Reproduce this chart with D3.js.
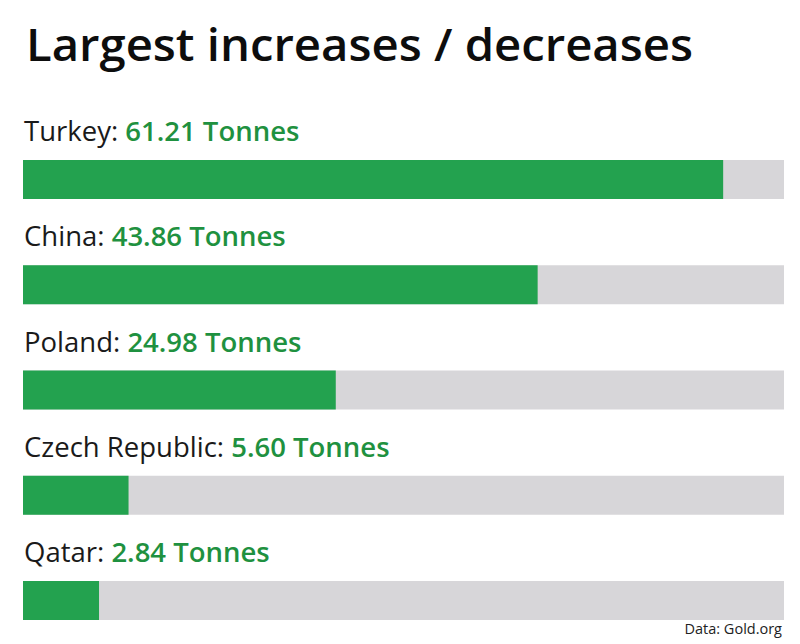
<!DOCTYPE html>
<html><head><meta charset="utf-8">
<script src="https://cdn.jsdelivr.net/npm/d3@7"></script>
<style>body{margin:0;background:#fff;}svg{display:block;}</style>
</head><body>
<script>
const countries = ["Turkey", "China", "Poland", "Czech Republic", "Qatar"];
const values = [61.21, 43.86, 24.98, 5.60, 2.84];
const unit = "Tonnes";
const title = "Largest increases / decreases";
const source = "Data: Gold.org";

const W = 800, H = 644;
const svg = d3.select("body").append("svg").attr("width", W).attr("height", H);
svg.append("rect").attr("width", W).attr("height", H).attr("fill", "#fff");

const font = "'Open Sans', 'Noto Sans', sans-serif";
svg.append("text").attr("x", 26).attr("y", 61).text(title)
  .attr("font-family", font).attr("font-size", 46).attr("font-weight", 600).attr("fill", "#0d0d0d")
  .attr("textLength", 667).attr("lengthAdjust", "spacingAndGlyphs");

const x = d3.scaleLinear().domain([-4.27, 66.9]).range([23, 784]);
const rowY = d3.scalePoint().domain(countries).range([160, 581]);
const barH = 39;

const g = svg.selectAll("g.row").data(countries).join("g").attr("class", "row");
g.append("rect").attr("x", x(-4.27)).attr("y", d => rowY(d))
  .attr("width", x(66.9) - x(-4.27)).attr("height", barH).attr("fill", "#d7d6d9");
g.append("rect").attr("x", x(-4.27)).attr("y", d => rowY(d))
  .attr("width", (d, i) => x(values[i]) - x(-4.27)).attr("height", barH).attr("fill", "#23a24f");
const t = g.append("text").attr("x", 24).attr("y", d => rowY(d) - 19)
  .attr("font-family", font).attr("font-size", 27.5).attr("fill", "#1a1a1a");
t.append("tspan").text(d => d + ": ");
t.append("tspan").attr("font-weight", 600).attr("fill", "#1f9140")
  .text((d, i) => values[i].toFixed(2) + " " + unit);

svg.append("text").attr("x", 782).attr("y", 634).attr("text-anchor", "end")
  .attr("font-family", font).attr("font-size", 14.5).attr("fill", "#222").text(source);
</script>
</body></html>
